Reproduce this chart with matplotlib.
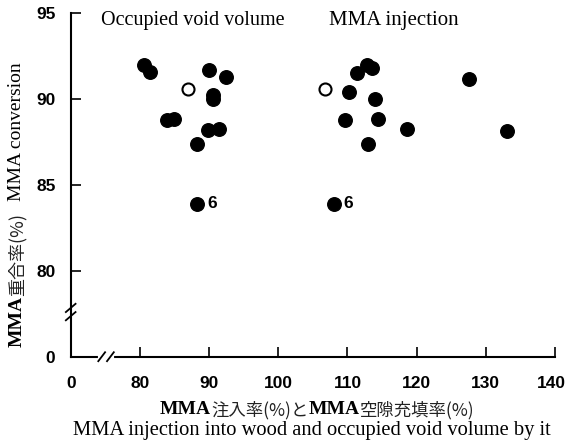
import matplotlib
matplotlib.use("Agg")
import matplotlib.pyplot as plt
from matplotlib import transforms as mtrans

# ---- data ----
void_x = [80.6, 81.4, 90.0, 92.5, 90.6, 90.6, 83.9, 84.9, 89.9, 91.5, 88.2, 88.3]
void_y = [92.0, 91.6, 91.7, 91.3, 90.25, 90.0, 88.8, 88.85, 88.2, 88.25, 87.4, 83.9]
void_open_x = [86.9]
void_open_y = [90.6]

inj_x = [111.4, 112.8, 113.5, 127.6, 110.2, 114.0, 109.6, 114.4, 118.6, 133.1, 112.9, 108.0]
inj_y = [91.55, 92.0, 91.8, 91.2, 90.4, 90.0, 88.8, 88.85, 88.25, 88.15, 87.4, 83.9]
inj_open_x = [106.8]
inj_open_y = [90.6]

label6_points = [(88.3, 83.9), (108.0, 83.9)]

x_ticks = [70, 80, 90, 100, 110, 120, 130, 140]
x_ticklabels = ["0", "80", "90", "100", "110", "120", "130", "140"]
y_ticks = [75, 80, 85, 90, 95]
y_ticklabels = ["0", "80", "85", "90", "95"]

tick_font = "Liberation Sans"
tick_size = 12.5
serif = "Liberation Serif"
cjk = ["Noto Sans CJK JP", "DejaVu Sans"]

W, H = 567, 442
fig = plt.figure(figsize=(W / 100, H / 100), dpi=100)
ax = fig.add_axes([70.7 / W, (H - 356.7) / H, (555 - 70.7) / W, (356.7 - 13.3) / H])

ax.scatter(void_x, void_y, s=95, c="black", edgecolors="black", zorder=3)
ax.scatter(inj_x, inj_y, s=95, c="black", edgecolors="black", zorder=3)
ax.scatter(void_open_x + inj_open_x, void_open_y + inj_open_y, s=75, c="white",
           edgecolors="black", linewidths=1.5, zorder=3)
for (px, py) in label6_points:
    ax.annotate("6", (px, py), xytext=(7, 0), textcoords="offset points",
                ha="left", va="center", fontsize=12.5, fontweight="bold", family=tick_font)

ax.set_xlim(70, 140)
ax.set_ylim(75, 95)
ax.set_xticks(x_ticks)
ax.set_xticklabels(x_ticklabels[:-1] + [""])
ax.set_yticks(y_ticks)
ax.set_yticklabels(y_ticklabels)
for lab in ax.get_xticklabels() + ax.get_yticklabels():
    lab.set_fontweight("bold")
    lab.set_family(tick_font)
    lab.set_fontsize(tick_size)
ax.tick_params(direction="in", length=7, width=1.2)
ax.tick_params(axis="x", pad=14)
ax.tick_params(axis="y", pad=11)
# last x tick label nudged left so it stays inside the canvas, as in the original
off = mtrans.ScaledTranslation(-3.5 / 100, -14 / 72, fig.dpi_scale_trans)
ax.text(x_ticks[-1], 0, x_ticklabels[-1], transform=ax.get_xaxis_transform() + off,
        ha="center", va="top", fontsize=tick_size, fontweight="bold", family=tick_font)
for s in ["top", "right"]:
    ax.spines[s].set_visible(False)
for s in ["left", "bottom"]:
    ax.spines[s].set_linewidth(1.5)

# break marks
bx = 0.073
ax.plot([bx - 0.012, bx + 0.012], [0, 0], color="white", lw=3, transform=ax.transAxes,
        clip_on=False, zorder=4)
for dx in (-0.009, 0.009):
    ax.plot([bx + dx - 0.007, bx + dx + 0.007], [-0.013, 0.013], color="black", lw=1.3,
            transform=ax.transAxes, clip_on=False, zorder=5)
by = 0.130
for dy in (-0.012, 0.012):
    ax.plot([-0.01, 0.01], [by + dy - 0.012, by + dy + 0.012], color="black", lw=1.3,
            transform=ax.transAxes, clip_on=False, zorder=5)

# titles inside
fig.text(101 / W, 1 - 20 / H, "Occupied void volume", family=serif, fontsize=14.5,
         ha="left", va="center")
fig.text(329 / W, 1 - 20 / H, "MMA injection", family=serif, fontsize=15,
         ha="left", va="center")

# y label
fig.text(17 / W, 1 - 132 / H, "MMA conversion", family=serif, fontsize=14,
         rotation=90, ha="center", va="center")
fig.canvas.draw()
r = fig.canvas.get_renderer()
t1 = fig.text(17 / W, 1 - 347 / H, "MMA", family=serif, fontsize=14, fontweight="bold",
              rotation=90, ha="center", va="bottom")
bb = t1.get_window_extent(r)
fig.text(17 / W, bb.y1 / H, "重合率(%)", family=cjk,
         fontsize=13, rotation=90, ha="center", va="bottom", color="#222222")

# x labels
y_jp = 1 - 410 / H
t2 = fig.text(160 / W, y_jp, "MMA", family=serif, fontsize=14, fontweight="bold",
              ha="left", va="center")
bb = t2.get_window_extent(r)
t3 = fig.text(bb.x1 / W, y_jp, "注入率(%)と", family=cjk,
              fontsize=12.5, ha="left", va="center", color="#222222")
bb = t3.get_window_extent(r)
t4 = fig.text(bb.x1 / W, y_jp, "MMA", family=serif, fontsize=14, fontweight="bold",
              ha="left", va="center")
bb = t4.get_window_extent(r)
fig.text(bb.x1 / W, y_jp, "空隙充填率(%)", family=cjk,
         fontsize=12.5, ha="left", va="center", color="#222222")

fig.text(312 / W, 1 - 431 / H, "MMA injection into wood and occupied void volume by it",
         family=serif, fontsize=14.8, ha="center", va="center")

fig.savefig("out.png", dpi=100)
